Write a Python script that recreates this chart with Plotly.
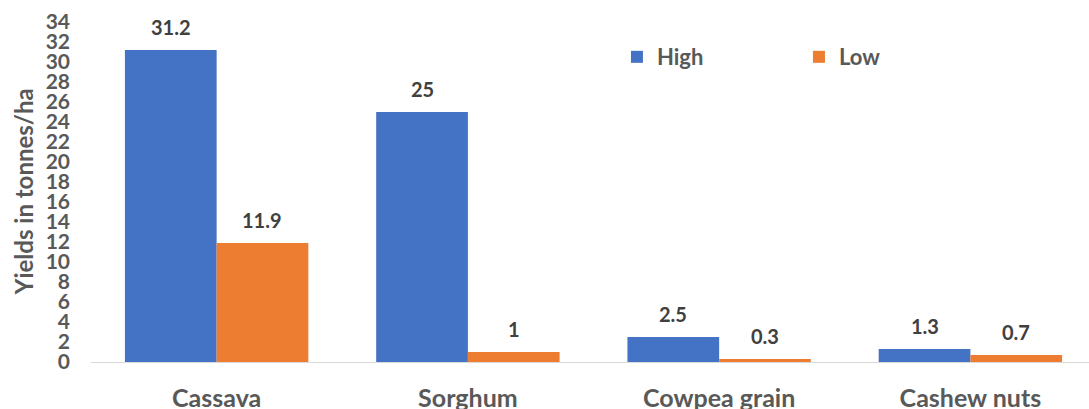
import plotly.graph_objects as go

crops = ["Cassava", "Sorghum", "Cowpea grain", "Cashew nuts"]
high = [31.2, 25, 2.5, 1.3]
low = [11.9, 1, 0.3, 0.7]
y_ticks = list(range(0, 35, 2))

BLUE = "#4472C4"
ORANGE = "#ED7D31"
FONT = "Lato"

fig = go.Figure()
fig.add_trace(go.Bar(name="High", x=crops, y=high, marker_color=BLUE,
                     marker_line_width=0))
fig.add_trace(go.Bar(name="Low", x=crops, y=low, marker_color=ORANGE,
                     marker_line_width=0))

# value labels above each bar
half = 45.7
for vals, shift in ((high, -half), (low, half)):
    for c, v in zip(crops, vals):
        fig.add_annotation(x=c, y=v, text=f"{v:g}", showarrow=False,
                           xshift=shift, yshift=23, yanchor="middle",
                           font=dict(family=FONT, size=20, color="#404040",
                                     weight="bold"))

# vertical axis title
fig.add_annotation(text="Yields in tonnes/ha", xref="paper", yref="paper",
                   x=-0.068, y=0.5, textangle=-90, showarrow=False,
                   xanchor="center", yanchor="middle",
                   font=dict(family=FONT, size=24, weight="bold",
                             color="#595959"))

fig.update_layout(
    width=1089, height=409,
    margin=dict(l=91, r=0, t=22, b=47),
    plot_bgcolor="white", paper_bgcolor="white",
    barmode="group", bargap=0.27, bargroupgap=0,
    font=dict(family=FONT, color="#595959"),
    showlegend=True,
    legend=dict(orientation="h", x=0.527, y=0.897, xanchor="left",
                yanchor="middle", font=dict(size=22, weight="bold",
                                            color="#595959"),
                itemwidth=30, tracegroupgap=0, entrywidth=137,
                bgcolor="rgba(0,0,0,0)"),
)
fig.update_xaxes(range=[-0.5, 3.472], showline=True, linecolor="#D9D9D9",
                 linewidth=1, showgrid=False, ticks="", automargin=False,
                 tickfont=dict(size=25, weight="bold", color="#595959"),
                 ticklabelstandoff=14)
fig.update_yaxes(range=[0, 34], tickvals=y_ticks, showgrid=False,
                 zeroline=False, showline=False, ticks="", automargin=False,
                 tickfont=dict(size=21, weight="bold", color="#595959"),
                 ticklabelstandoff=20)

fig.write_html("out.html")
